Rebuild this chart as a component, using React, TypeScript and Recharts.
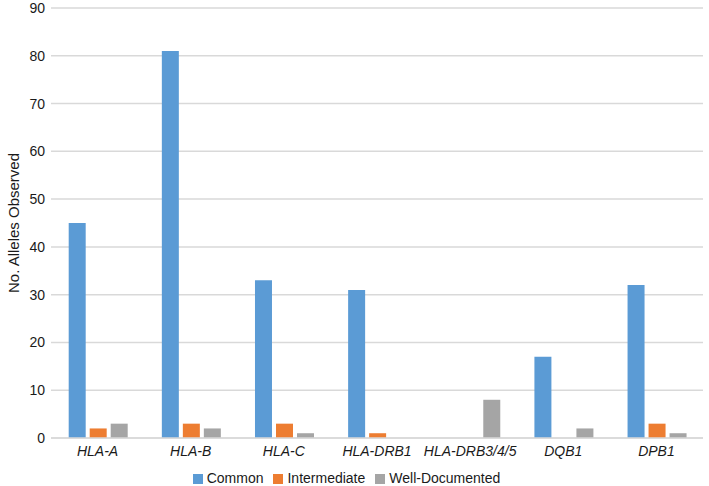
import { Bar, BarChart, CartesianGrid, Legend, XAxis, YAxis } from "recharts";

const loci = ["HLA-A", "HLA-B", "HLA-C", "HLA-DRB1", "HLA-DRB3/4/5", "DQB1", "DPB1"];
const common = [45, 81, 33, 31, 0, 17, 32];
const intermediate = [2, 3, 3, 1, 0, 0, 3];
const wellDocumented = [3, 2, 1, 0, 8, 2, 1];
const yTicks = [0, 10, 20, 30, 40, 50, 60, 70, 80, 90];

const data = loci.map((locus, i) => ({
    locus,
    Common: common[i],
    Intermediate: intermediate[i],
    "Well-Documented": wellDocumented[i],
}));

const series = [
    { key: "Common", color: "#5B9BD5" },
    { key: "Intermediate", color: "#ED7D31" },
    { key: "Well-Documented", color: "#A5A5A5" },
];

const font = "'Liberation Sans', Arial, sans-serif";

function AxisTitle(props: any) {
    const vb = props.viewBox || {};
    const cy = (vb.y ?? 0) + (vb.height ?? 0) / 2;
    return (
        <text
            x={13}
            y={cy}
            transform={`rotate(-90, 13, ${cy})`}
            textAnchor="middle"
            dominantBaseline="central"
            fill="#1a1a1a"
            fontSize={15}
            fontFamily={font}
        >
            No. Alleles Observed
        </text>
    );
}

export default function App() {
    return (
        <div style={{ position: "absolute", left: 0, top: 0, fontFamily: font }}>
            <BarChart
                width={709}
                height={486}
                data={data}
                margin={{ top: 8, right: 6, left: 0, bottom: 0 }}
                barGap={4}
                barCategoryGap="19%"
            >
                <CartesianGrid vertical={false} stroke="#d9d9d9" strokeWidth={1.5} />
                <XAxis
                    dataKey="locus"
                    height={32}
                    axisLine={{ stroke: "#d9d9d9", strokeWidth: 1.5 }}
                    tickLine={false}
                    tickMargin={2}
                    interval={0}
                    tick={{ fill: "#1a1a1a", fontSize: 14, fontStyle: "italic", fontFamily: font }}
                />
                <YAxis
                    width={51}
                    domain={[0, 90]}
                    ticks={yTicks}
                    axisLine={false}
                    tickLine={false}
                    tickMargin={0}
                    tick={{ fill: "#1a1a1a", fontSize: 14, fontFamily: font }}
                    label={<AxisTitle />}
                />
                <Legend
                    verticalAlign="bottom"
                    iconType="square"
                    iconSize={10}
                    wrapperStyle={{ fontSize: 14, fontFamily: font, color: "#1a1a1a" }}
                    formatter={(value) => <span style={{ color: "#1a1a1a" }}>{value}</span>}
                />
                {series.map(({ key, color }) => (
                    <Bar key={key} dataKey={key} fill={color} isAnimationActive={false} />
                ))}
            </BarChart>
        </div>
    );
}
